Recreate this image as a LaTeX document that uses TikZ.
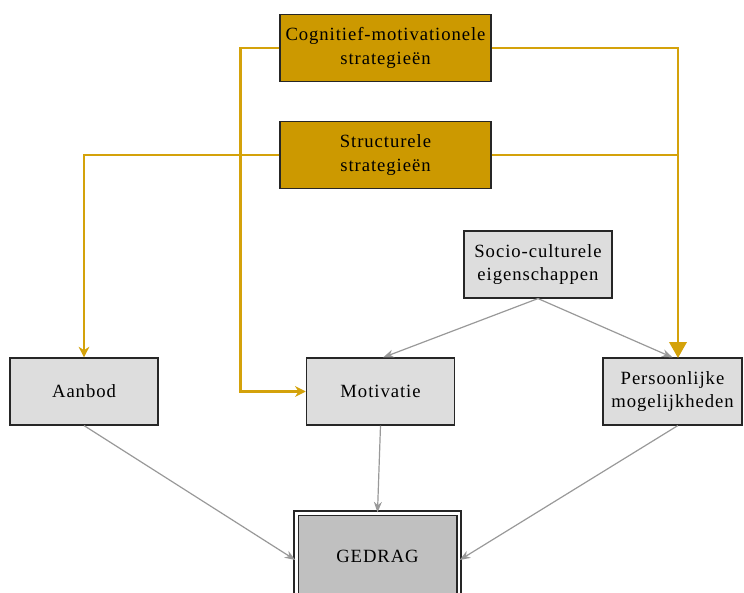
\documentclass[tikz,border=0pt]{standalone}
\usepackage{fontspec}
\setmainfont{Liberation Serif}[LetterSpace=5]
\usetikzlibrary{arrows.meta}

\definecolor{goud}{HTML}{CC9900}
\definecolor{lijngoud}{HTML}{D4A20A}
\definecolor{lichtgrijs}{HTML}{DDDDDD}
\definecolor{grijs}{HTML}{C0C0C0}
\definecolor{pijlgrijs}{HTML}{999999}

\begin{document}
\begin{tikzpicture}[x=0.75pt,y=-0.75pt,
	font=\fontsize{14}{17.5}\selectfont,
	doos/.style={draw=black!85,line width=1.1pt,fill=lichtgrijs,align=center,
		minimum width=111pt,minimum height=50pt,inner xsep=0pt},
	strat/.style={doos,fill=goud,minimum width=158pt},
	goudpijl/.style={draw=lijngoud,line width=2pt,-{Stealth[length=8pt,width=8pt]}},
	goudlijn/.style={draw=lijngoud,line width=1pt},
	grijspijl/.style={draw=pijlgrijs,line width=0.9pt,-{Stealth[length=8pt,width=6pt]}}]

	\useasboundingbox (0,0) rectangle (744,593);

	\node[strat] (cog) at (385.5,48) {Cognitief-motivationele\\strategieën};
	\node[strat] (struc) at (385.5,155) {Structurele\\strategieën};
	\node[doos] (soc) at (538,264.5) {Socio-culturele\\eigenschappen};
	\node[doos] (aan) at (84,391.5) {Aanbod};
	\node[doos] (mot) at (380.5,391.5) {Motivatie};
	\node[doos,minimum width=104pt] (pers) at (672.5,391.5) {Persoonlijke\\mogelijkheden};
	\node[doos,fill=grijs,minimum width=122pt,minimum height=64pt,line width=1.3pt,
		double=white,double distance=2pt] (ged) at (377.5,556) {GEDRAG};

	\coordinate (pin) at (678,358);

	\draw[goudpijl] (cog.west) -- ++(-39,0) |- (mot.west);
	\draw[goudpijl] (struc.west) -| (aan.north);
	\draw[goudlijn] (cog.east) -| (pin |- struc.east);
	\draw[goudlijn] (struc.east) -- (pin |- struc.east);
	\draw[draw=lijngoud,line width=2pt,-{Triangle[length=12pt,width=13pt]}] (pin |- struc.east) -- (pin);

	\draw[grijspijl] (soc.south) -- ([xshift=2pt]mot.north);
	\draw[grijspijl] (soc.south) -- (pers.north);
	\draw[grijspijl] (aan.south) -- ([yshift=-3pt]ged.west);
	\draw[grijspijl] (mot.south) -- (ged.north);
	\draw[grijspijl] ([xshift=4pt]pers.south) -- ([yshift=-3pt]ged.east);

\end{tikzpicture}
\end{document}
